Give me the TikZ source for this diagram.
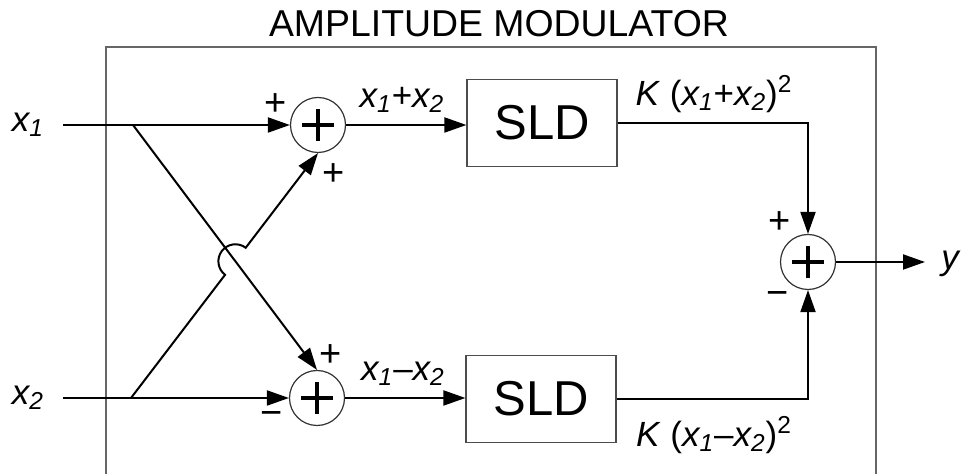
\documentclass[tikz,border=0pt]{standalone}
\usepackage{fontspec}
\setmainfont{Liberation Sans}
\usetikzlibrary{arrows.meta,calc}

\begin{document}
\begin{tikzpicture}[x=0.5pt, y=-0.5pt,
  sig/.style={line width=1pt, -{Triangle[length=11pt,width=7.5pt]}},
  sumnode/.style={circle, draw=black!80, line width=0.6pt, minimum size=27.5pt, inner sep=0pt},
  cross/.style={line width=1.6pt},
  sldbox/.style={draw=black!70, line width=0.6pt, minimum width=75pt, minimum height=43.5pt, inner sep=0pt, font={\fontsize{24.5}{24.5}\selectfont}},
  var/.style={inner sep=0pt, font={\itshape\fontsize{17.5}{17.5}\selectfont}},
  sqlabel/.style={inner sep=0pt, font={\itshape\fontsize{17.5}{17.5}\selectfont}},
  sign/.style={inner sep=0pt, font={\fontsize{19}{19}\selectfont}}]
\useasboundingbox (0,0) rectangle (969,474);
% frame and title
\draw[black!60, line width=0.6pt] (106,474) |- (876,47) -- (876,474);
\node[font={\fontsize{18.7}{18.7}\selectfont}] (title) at (499,24) {AMPLITUDE MODULATOR};
% blocks
\node[sumnode] (s1) at (318,125) {};
\node[sumnode] (s2) at (317,398) {};
\node[sumnode] (s3) at (808,262) {};
\foreach \s in {s1,s2,s3}
  \draw[cross] ([xshift=-8pt]\s.center) -- ([xshift=8pt]\s.center)
    ([yshift=-8pt]\s.center) -- ([yshift=8pt]\s.center);
\node[sldbox] (sld1) at (542,123) {SLD};
\node[sldbox] (sld2) at (541,399) {SLD};
% inputs and output
\node[var] (x1) at (28,125) {x\textsubscript{1}};
\node[var] (x2) at (28,398) {x\textsubscript{2}};
\node[var] (y) at (950,264) {y};
\coordinate (in1) at (63,125);
\coordinate (in2) at (63,398);
\coordinate (j1) at (133,125);
\coordinate (j2) at (131,398);
\coordinate (out) at (925,262);
\coordinate (cr) at (intersection of j1--s2.north and j2--s1.south);
% connectors
\draw[sig] (in1) -- (s1.west);
\draw[sig] (in2) -- (s2.west);
\draw[sig] (j1) -- (s2.north);
\draw[sig] let \p1=($(s1.south)-(j2)$), \n1={atan2(\y1,\x1)} in
  (j2) -- ($(cr)!8.5pt!(j2)$) arc[start angle=\n1+180, end angle=\n1, radius=8.5pt] -- (s1.south);
\draw[sig] (s1.east) -- (sld1.west |- s1.east);
\draw[sig] (s2.east) -- (sld2.west |- s2.east);
\draw[sig] (sld1.east) -| (s3.north);
\draw[sig] (sld2.east) -| (s3.south);
\draw[sig] (s3.east) -- (out);
% labels
\node[var] (sumlab) at (402,100) {x\textsubscript{1}\textup{+}x\textsubscript{2}};
\node[var] (diflab) at (403,374) {x\textsubscript{1}\textup{–}x\textsubscript{2}};
\node[sqlabel] (sqsum) at (714,94) {K \textup{(}x\textsubscript{1}\textup{+}x\textsubscript{2}\textup{)}\textsuperscript{\textup{2}}};
\node[sqlabel] (sqdif) at (714,435) {K \textup{(}x\textsubscript{1}\textup{–}x\textsubscript{2}\textup{)}\textsuperscript{\textup{2}}};
% signs
\node[sign] (s1a) at (276,105) {+};
\node[sign] (s1b) at (334,175) {+};
\node[sign] (s2a) at (331,356) {+};
\node[sign] (s2b) at (272,419) {−};
\node[sign] (s3a) at (780,223) {+};
\node[sign] (s3b) at (778,299) {−};
\end{tikzpicture}
\end{document}
